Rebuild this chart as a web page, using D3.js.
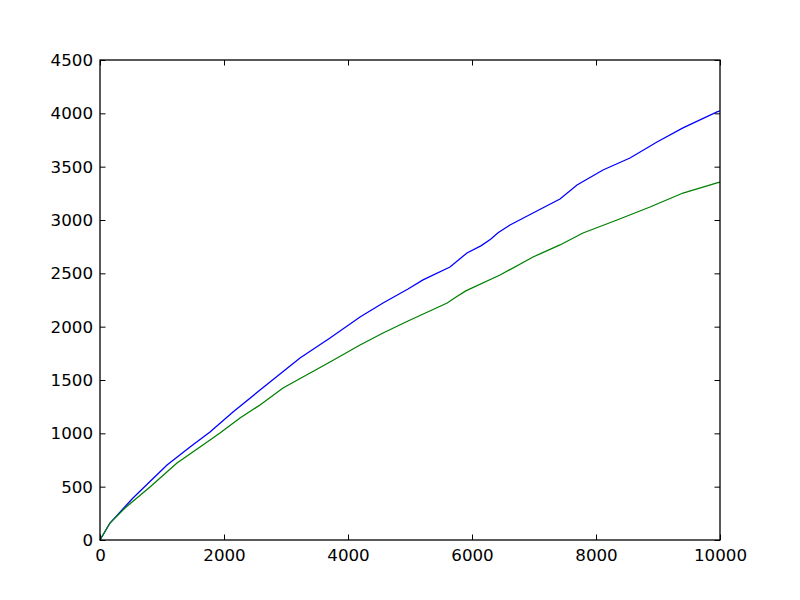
<!DOCTYPE html>
<html>
<head>
<meta charset="utf-8">
<script src="https://cdn.jsdelivr.net/npm/d3@7"></script>
<style>
  body { margin: 0; background: #fff; }
  text { font-family: "DejaVu Sans", sans-serif; }
</style>
</head>
<body>
<div id="chart"></div>
<script>
// values
var blueX = [0, 161, 532, 1081, 1452, 1774, 2145, 2581, 2823, 3226, 3710, 4194, 4565, 4968, 5210, 5645, 5919, 6150, 6300, 6420, 6613, 6984, 7419, 7694, 8113, 8548, 8984, 9403, 9952, 10000];
var blueY = [0, 159, 394, 703, 872, 1012, 1200, 1406, 1519, 1706, 1894, 2091, 2222, 2353, 2438, 2559, 2691, 2760, 2820, 2880, 2953, 3066, 3197, 3328, 3469, 3581, 3731, 3863, 4013, 4022];

var greenX = [0, 161, 403, 806, 1242, 1613, 1935, 2258, 2581, 2952, 3710, 4194, 4565, 4968, 5600, 5750, 5900, 6452, 6984, 7419, 7790, 8339, 8871, 9403, 9952, 10000];
var greenY = [0, 159, 300, 497, 722, 872, 1003, 1144, 1266, 1425, 1669, 1828, 1941, 2053, 2222, 2280, 2335, 2484, 2653, 2766, 2878, 3000, 3122, 3253, 3347, 3355];

var xTicks = [0, 2000, 4000, 6000, 8000, 10000];
var yTicks = [0, 500, 1000, 1500, 2000, 2500, 3000, 3500, 4000, 4500];

var width = 800, height = 600;
var pLeft = 100, pRight = 720, pTop = 60, pBottom = 540;

var svg = d3.select("#chart").append("svg")
    .attr("width", width)
    .attr("height", height);

var x = d3.scaleLinear().domain([0, 10000]).range([pLeft, pRight]);
var y = d3.scaleLinear().domain([0, 4500]).range([pBottom, pTop]);

var line = d3.line()
    .x(function(d){ return x(d[0]); })
    .y(function(d){ return y(d[1]); });

function pairs(xs, ys){
    var out = [];
    for(var i=0;i<xs.length;i++) out.push([xs[i], ys[i]]);
    return out;
}

svg.append("path")
    .attr("d", line(pairs(blueX, blueY)))
    .attr("fill", "none")
    .attr("stroke", "#0000ff")
    .attr("stroke-width", 1.3);

svg.append("path")
    .attr("d", line(pairs(greenX, greenY)))
    .attr("fill", "none")
    .attr("stroke", "#008000")
    .attr("stroke-width", 1.3);

// ticks pointing inwards on all four sides
var tl = 5.5;
var axB = d3.axisBottom(x).tickValues(xTicks).tickSizeInner(-tl).tickSizeOuter(0).tickPadding(tl + 4).tickFormat(d3.format("d"));
var axT = d3.axisTop(x).tickValues(xTicks).tickSizeInner(-tl).tickSizeOuter(0).tickFormat("");
var axL = d3.axisLeft(y).tickValues(yTicks).tickSizeInner(-tl).tickSizeOuter(0).tickPadding(tl + 1.5).tickFormat(d3.format("d"));
var axR = d3.axisRight(y).tickValues(yTicks).tickSizeInner(-tl).tickSizeOuter(0).tickFormat("");

function style(g){
    g.select(".domain").remove();
    g.selectAll("line").attr("stroke", "#000").attr("stroke-width", 1);
    g.selectAll("text").attr("fill", "#000").style("font-size", "16.7px").style("font-family", "DejaVu Sans, sans-serif");
}

svg.append("g").attr("transform", "translate(0," + pBottom + ")").call(axB).call(style);
svg.append("g").attr("transform", "translate(0," + pTop + ")").call(axT).call(style);
svg.append("g").attr("transform", "translate(" + pLeft + ",0)").call(axL).call(style);
svg.append("g").attr("transform", "translate(" + pRight + ",0)").call(axR).call(style);

svg.append("rect")
    .attr("x", pLeft)
    .attr("y", pTop)
    .attr("width", pRight - pLeft)
    .attr("height", pBottom - pTop)
    .attr("fill", "none")
    .attr("stroke", "#000")
    .attr("stroke-width", 1.3);
</script>
</body>
</html>
